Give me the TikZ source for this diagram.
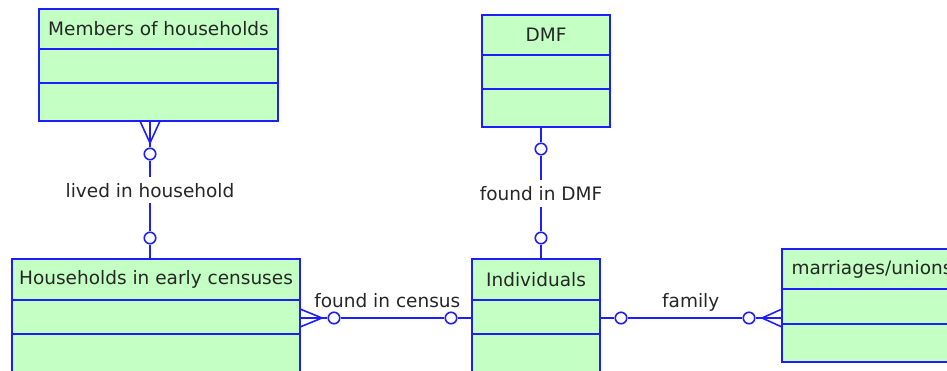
\documentclass[tikz,border=0pt]{standalone}
\usepackage{fontspec}
\newfontfamily\erfont{DejaVu Sans}
\usetikzlibrary{positioning, calc}
\definecolor{erblue}{RGB}{30,30,250}
\definecolor{ergreen}{RGB}{196,255,196}
\tikzset{
  er head/.style={
    rectangle, draw=erblue, fill=ergreen, line width=1.6pt,
    minimum height=40pt, inner sep=0pt, outer sep=0pt,
    text=black!85, font=\erfont\fontsize{18.5}{20}\selectfont
  },
  er row/.style={
    rectangle, draw=erblue, fill=ergreen, line width=1.6pt,
    inner sep=0pt, outer sep=0pt
  },
  er opt/.style={
    circle, draw=erblue, fill=white, line width=1.6pt,
    minimum size=11.5pt, inner sep=0pt
  },
  er rel/.style={
    draw=erblue, line width=1.6pt
  },
  er label/.style={
    fill=white, inner sep=6pt, text=black!85,
    font=\erfont\fontsize{18.5}{20}\selectfont
  },
  er above/.style={
    anchor=base, yshift=11pt, inner sep=0pt, text=black!85,
    font=\erfont\fontsize{18.5}{20}\selectfont
  }
}
\begin{document}
\begin{tikzpicture}[x=1pt, y=-1pt]
  \useasboundingbox (0,0) rectangle (947,371);
  % Entities
  \node (mem) [er head, minimum width=239pt, anchor=north west] at (39,9) {Members of households};
  \node (mem2) [er row, minimum width=239pt, minimum height=34pt, below=0pt of mem] {};
  \node (mem3) [er row, minimum width=239pt, minimum height=38pt, below=0pt of mem2] {};
  \node (dmf) [er head, minimum width=128pt, anchor=north west] at (482,15) {DMF};
  \node (dmf2) [er row, minimum width=128pt, minimum height=34pt, below=0pt of dmf] {};
  \node (dmf3) [er row, minimum width=128pt, minimum height=38pt, below=0pt of dmf2] {};
  \node (hh) [er head, minimum width=288pt, minimum height=41pt, anchor=north west] at (12,259) {Households in early censuses};
  \node (hh2) [er row, minimum width=288pt, minimum height=34pt, below=0pt of hh] {};
  \node (hh3) [er row, minimum width=288pt, minimum height=38pt, below=0pt of hh2] {};
  \node (ind) [er head, minimum width=128pt, minimum height=41pt, anchor=north west] at (472,259) {Individuals};
  \node (ind2) [er row, minimum width=128pt, minimum height=34pt, below=0pt of ind] {};
  \node (ind3) [er row, minimum width=128pt, minimum height=38pt, below=0pt of ind2] {};
  \node (mar) [er head, minimum width=180pt, anchor=north west] at (782,249) {marriages/unions};
  \node (mar2) [er row, minimum width=180pt, minimum height=35pt, below=0pt of mar] {};
  \node (mar3) [er row, minimum width=180pt, minimum height=38pt, below=0pt of mar2] {};

  % lived in household
  \coordinate (mh foot) at (150,143);
  \node (mh c1) [er opt] at (150,154) {};
  \node (mh c2) [er opt] at (150,238) {};
  \draw [er rel] (mh foot) -- (mh c1);
  \draw [er rel] (mh c1) -- node [er label, pos=0.42] {lived in household} (mh c2);
  \draw [er rel] (mh c2) -- (mh c2 |- hh.north);
  \foreach \dx in {-10,0,10}
    \draw [er rel] (mh foot) -- ([xshift=\dx pt]mh foot |- mem3.south);

  % found in DMF
  \node (di c1) [er opt] at (541,149) {};
  \node (di c2) [er opt] at (541,238) {};
  \draw [er rel] (di c1 |- dmf3.south) -- (di c1);
  \draw [er rel] (di c1) -- node [er label] {found in DMF} (di c2);
  \draw [er rel] (di c2) -- (di c2 |- ind.north);

  % found in census
  \coordinate (hi foot) at (322,318);
  \node (hi c1) [er opt] at (334,318) {};
  \node (hi c2) [er opt] at (451,318) {};
  \draw [er rel] (hi foot) -- (hi c1);
  \draw [er rel] (hi c1) -- node [er above, pos=0.45] {found in census} (hi c2);
  \draw [er rel] (hi c2) -- (hi c2 -| ind2.west);
  \foreach \dy in {-9,0,9}
    \draw [er rel] (hi foot) -- ([yshift=\dy pt]hi foot -| hh2.east);

  % family
  \node (fm c1) [er opt] at (621,318) {};
  \node (fm c2) [er opt] at (749,318) {};
  \coordinate (fm foot) at (762,318);
  \draw [er rel] (fm c1 -| ind2.east) -- (fm c1);
  \draw [er rel] (fm c1) -- node [er above, pos=0.55] {family} (fm c2);
  \draw [er rel] (fm c2) -- (fm foot);
  \foreach \dy in {-9,0,9}
    \draw [er rel] (fm foot) -- ([yshift=\dy pt]fm foot -| mar2.west);
\end{tikzpicture}
\end{document}
